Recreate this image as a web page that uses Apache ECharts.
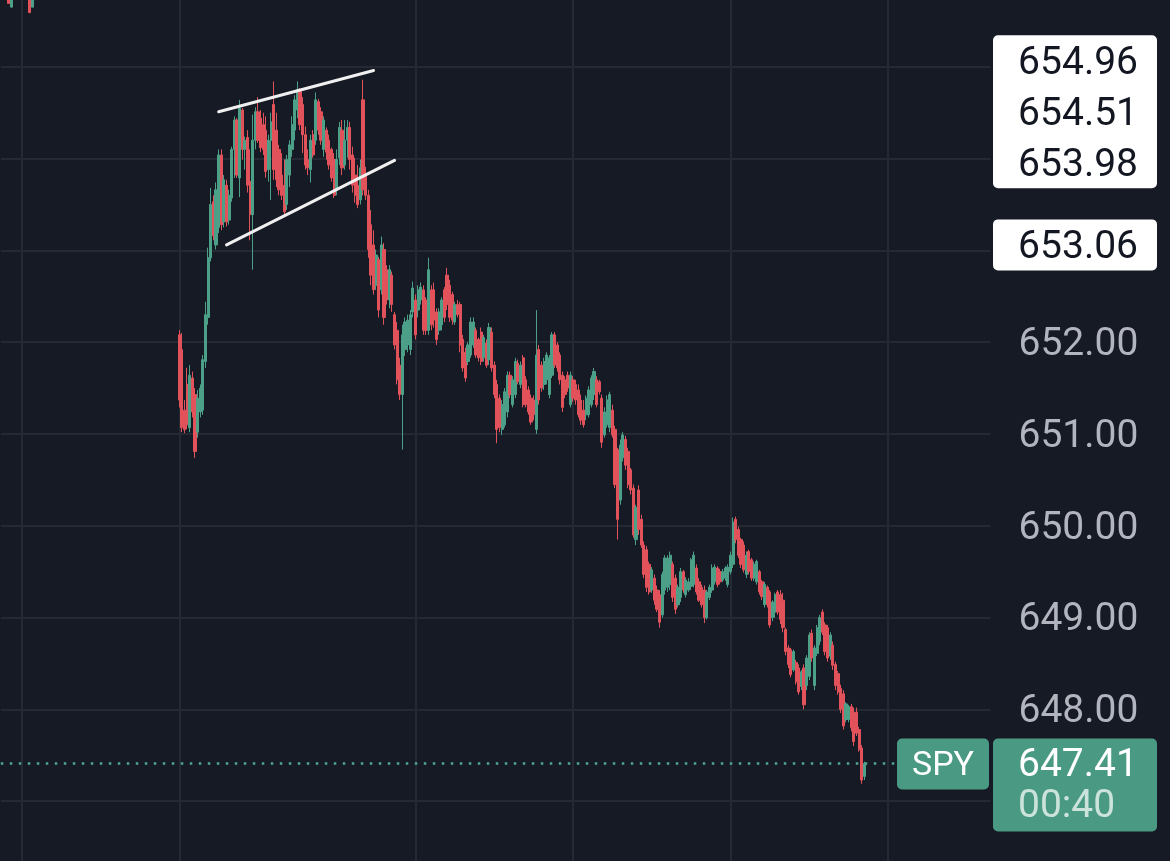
<!DOCTYPE html>
<html><head><meta charset="utf-8">
<script src="https://cdn.jsdelivr.net/npm/echarts@6/dist/echarts.min.js"></script>
<style>html,body{margin:0;padding:0;background:#161a25;overflow:hidden;width:1170px;height:861px;position:relative;}
#c{position:absolute;left:0;top:-25px;width:1170px;height:918px;}</style>
</head><body><div id="c"></div>
<script>
// ---------------- DATA ----------------
const symbolName = 'SPY';
const countdown = '00:40';
const prevDayStart = [14, 52];      // first (partially visible) minute of previous session
const prevDayCount = 68;            // minutes of previous session on screen
const sessionStart = [9, 30];
const totalCategories = 378;
const gridTimes = ['15:00', '09:30', '11:00', '12:00', '13:00', '14:00'];

// previous-day bars that dip into view: [index, open, close, low, high]
const prevDayBars = [
  [3, 656.20, 655.69, 655.69, 656.35],
  [4, 655.65, 656.10, 655.65, 656.20],
  [11, 656.15, 655.59, 655.59, 656.30],
  [12, 655.65, 656.00, 655.65, 656.10]
];

// today's 1-minute bars: [open, close, low, high]
const todayBars = [
[652.08,651.37,651.29,652.13],[651.92,651.07,651.02,652.10],[651.26,651.05,651.01,651.37],[651.54,651.10,651.05,651.72],
[651.07,651.64,651.02,651.75],[651.61,651.24,651.18,651.68],[651.43,650.81,650.74,651.50],[651.02,651.39,650.96,651.48],
[651.24,651.50,651.18,651.54],[651.26,651.81,651.21,651.86],[651.79,652.30,651.72,652.44],[652.27,652.92,652.19,653.03],
[652.92,653.50,652.88,653.68],[653.53,653.16,653.11,653.60],[653.06,653.66,653.01,653.74],[653.25,654.04,653.19,654.10],
[654.04,653.28,653.22,654.10],[653.31,653.77,653.25,653.82],[653.71,653.31,653.26,653.77],[653.33,653.60,653.28,653.66],
[653.57,654.10,653.53,654.13],[654.10,654.42,653.79,654.46],[654.42,653.82,653.79,654.44],[653.79,654.55,653.58,654.64],
[654.53,654.10,653.99,654.55],[654.10,654.20,653.88,654.24],[654.23,653.71,653.63,654.31],[653.75,653.39,653.11,654.10],
[653.39,654.20,652.79,654.48],[654.20,654.51,654.10,654.56],[654.51,654.20,654.17,654.67],[654.44,654.12,654.07,654.53],
[654.37,654.10,654.04,654.50],[654.31,653.86,653.79,654.46],[653.88,654.20,653.75,654.26],[654.20,654.40,653.55,654.50],
[654.59,653.88,653.77,654.84],[654.31,653.77,653.69,654.50],[654.10,653.66,653.60,654.15],[653.82,653.60,653.55,654.06],
[653.71,653.42,653.37,653.99],[653.50,653.99,653.44,654.04],[653.82,654.15,653.69,654.20],[654.10,654.37,654.02,654.46],
[654.31,654.64,654.20,654.69],[654.53,654.75,654.44,654.84],[654.73,654.37,654.31,654.77],[654.59,654.26,654.06,654.67],
[654.26,653.93,653.88,654.35],[653.99,653.90,653.82,654.10],[653.88,654.20,653.74,654.26],[654.26,654.04,654.01,654.31],
[654.20,654.64,654.15,654.72],[654.62,654.31,654.26,654.65],[654.51,654.20,654.15,654.56],[654.10,654.42,654.02,654.46],
[654.31,654.07,653.99,654.34],[654.20,653.93,653.88,654.26],[654.10,653.79,653.75,654.12],[653.99,653.60,653.57,654.06],
[653.66,653.99,653.60,654.10],[654.01,654.34,653.93,654.40],[654.31,653.90,653.82,654.42],[653.93,654.20,653.88,654.42],
[654.20,654.34,654.01,654.42],[654.34,653.99,653.88,654.40],[654.04,653.71,653.63,654.13],[653.82,653.60,653.52,654.01],
[653.71,653.50,653.46,653.93],[653.55,653.90,653.50,653.99],[654.64,653.66,653.60,654.86],[653.82,653.60,653.55,653.91],
[653.60,653.01,652.92,653.66],[653.28,652.73,652.62,653.44],[653.06,652.57,652.52,653.22],[652.62,652.95,652.57,653.01],
[652.90,652.35,652.27,652.93],[652.57,653.06,652.52,653.15],[653.01,652.27,652.19,653.08],[652.79,652.46,652.41,652.84],
[652.46,652.79,652.37,652.84],[652.73,652.41,652.33,652.77],[652.30,651.97,651.92,652.33],[652.13,651.59,651.54,652.22],
[651.75,651.43,651.37,651.83],[651.43,652.08,650.83,652.19],[651.92,652.22,651.85,652.27],[651.97,652.24,651.89,652.30],
[651.92,652.30,651.86,652.35],[652.33,652.59,652.27,652.66],[652.46,652.08,652.03,652.52],[652.35,652.57,652.27,652.62],
[652.46,652.60,652.41,652.65],[652.57,652.13,652.08,652.62],[652.46,652.13,652.08,652.49],[652.13,652.79,652.08,652.92],
[652.57,652.19,652.13,652.62],[652.57,652.24,652.16,652.65],[652.33,652.03,651.97,652.37],[652.13,652.33,652.08,652.37],
[652.19,652.46,652.13,652.49],[652.57,652.27,652.22,652.60],[652.73,652.41,652.35,652.81],[652.62,652.27,652.22,652.68],
[652.52,652.24,652.19,652.55],[652.22,652.41,652.19,652.44],[652.41,652.30,652.27,652.46],[652.41,651.97,651.89,652.44],
[652.03,651.72,651.68,652.08],[651.89,651.61,651.57,651.94],[651.79,651.97,651.75,652.00],[651.86,652.22,651.83,652.27],
[651.97,652.22,651.94,652.27],[652.13,651.86,651.83,652.16],[652.03,651.83,651.79,652.05],[652.11,651.79,651.75,652.16],
[651.83,652.05,651.79,652.08],[651.99,651.75,651.72,652.03],[651.81,652.16,651.75,652.21],[652.11,651.72,651.68,652.16],
[651.75,651.43,651.39,651.79],[651.54,651.05,650.90,651.59],[651.39,651.07,651.02,651.43],[651.05,651.32,650.99,651.37],
[651.10,651.46,651.07,651.50],[651.24,651.64,651.18,651.68],[651.64,651.43,651.39,651.68],[651.32,651.59,651.29,651.63],
[651.43,651.79,651.39,651.83],[651.77,651.57,651.54,651.81],[651.54,651.75,651.50,651.79],[651.83,651.32,651.29,651.86],
[651.59,651.32,651.29,651.63],[651.48,651.24,651.21,651.52],[651.39,651.13,651.10,651.43],[651.37,651.21,651.15,651.42],
[651.05,651.86,651.00,652.35],[651.92,651.37,651.32,651.97],[651.75,651.50,651.46,651.79],[651.54,651.79,651.48,651.83],
[651.59,651.86,651.54,651.89],[651.43,651.83,651.39,651.86],[651.64,652.08,651.61,652.11],[652.08,651.75,651.72,652.11],
[651.97,651.72,651.68,652.00],[651.86,651.59,651.54,651.89],[651.64,651.29,651.24,651.68],[651.59,651.43,651.39,651.63],
[651.64,651.50,651.46,651.68],[651.32,651.64,651.29,651.68],[651.59,651.39,651.35,651.63],[651.54,651.37,651.32,651.59],
[651.48,651.21,651.18,651.54],[651.37,651.15,651.10,651.43],[651.26,651.10,651.07,651.37],[651.21,651.39,651.15,651.42],
[651.21,651.48,651.18,651.52],[651.32,651.61,651.29,651.64],[651.43,651.68,651.37,651.72],[651.59,651.32,651.29,651.63],
[651.57,651.46,651.43,651.59],[651.39,650.91,650.85,651.43],[650.99,651.24,650.96,651.29],[651.10,651.37,651.07,651.42],
[651.07,651.43,651.02,651.46],[651.26,650.99,650.96,651.32],[651.05,650.45,650.41,651.09],[650.83,650.07,649.85,650.85],
[650.28,650.88,650.23,650.94],[650.74,650.99,650.70,651.02],[650.94,650.66,650.61,650.98],[650.81,650.45,650.41,650.85],
[650.61,650.39,650.34,650.63],[650.41,649.90,649.87,650.45],[649.85,650.20,649.79,650.23],[650.39,649.96,649.90,650.44],
[650.07,649.79,649.76,650.12],[649.79,649.47,649.43,649.83],[649.74,649.33,649.28,649.78],[649.58,649.28,649.25,649.61],
[649.30,649.52,649.27,649.55],[649.43,649.19,649.14,649.47],[649.30,649.09,649.06,649.35],[649.25,648.95,648.89,649.30],
[649.03,649.47,649.00,649.50],[649.30,649.65,649.25,649.68],[649.33,649.65,649.28,649.68],[649.36,649.68,649.30,649.72],
[649.58,649.22,649.17,649.61],[649.43,649.09,649.04,649.47],[649.14,649.33,649.11,649.36],[649.22,649.50,649.17,649.54],
[649.50,649.30,649.27,649.52],[649.25,649.41,649.22,649.44],[649.30,649.39,649.28,649.43],[649.34,649.63,649.30,649.65],
[649.36,649.68,649.33,649.72],[649.54,649.28,649.25,649.58],[649.39,649.19,649.17,649.43],[649.33,649.14,649.11,649.36],
[649.30,649.00,648.94,649.35],[649.00,649.28,648.98,649.30],[649.22,649.33,649.19,649.36],[649.30,649.54,649.27,649.58],
[649.39,649.55,649.36,649.58],[649.54,649.36,649.33,649.56],[649.50,649.39,649.36,649.53],[649.41,649.50,649.39,649.53],
[649.43,649.54,649.40,649.56],[649.36,649.55,649.33,649.58],[649.50,649.68,649.47,649.72],[649.58,650.04,649.54,650.09],
[650.07,649.85,649.81,650.10],[649.96,649.68,649.65,649.99],[649.85,649.58,649.54,649.87],[649.79,649.52,649.49,649.83],
[649.47,649.68,649.43,649.72],[649.72,649.50,649.47,649.74],[649.63,649.43,649.40,649.65],[649.43,649.58,649.40,649.61],
[649.39,649.61,649.36,649.63],[649.50,649.28,649.25,649.52],[649.39,649.23,649.19,649.41],[649.14,649.36,649.11,649.39],
[649.33,649.14,649.11,649.35],[649.28,648.92,648.89,649.30],[649.00,649.17,648.96,649.19],[649.06,649.25,649.00,649.27],
[649.28,649.06,649.03,649.30],[649.25,648.98,648.93,649.30],[649.19,648.89,648.84,649.27],[648.87,648.63,648.59,648.89],
[648.67,648.49,648.45,648.70],[648.65,648.38,648.35,648.67],[648.43,648.63,648.41,648.65],[648.51,648.30,648.27,648.54],
[648.45,648.19,648.16,648.49],[648.25,648.41,648.21,648.43],[648.45,648.05,648.00,648.49],[648.26,648.56,648.21,648.59],
[648.36,648.81,648.32,648.84],[648.83,648.56,648.52,648.87],[648.26,648.67,648.21,648.70],[648.61,648.89,648.58,648.92],
[648.74,649.00,648.70,649.03],[649.06,648.84,648.81,649.09],[648.92,648.63,648.59,648.95],[648.89,648.56,648.52,648.92],
[648.58,648.81,648.54,648.84],[648.70,648.48,648.43,648.74],[648.49,648.26,648.21,648.52],[648.39,648.19,648.16,648.42],
[648.23,648.00,647.96,648.27],[648.17,647.82,647.78,648.21],[647.89,648.06,647.86,648.08],[647.89,648.03,647.86,648.05],
[648.03,647.80,647.76,648.06],[647.97,647.65,647.60,648.02],[647.97,647.74,647.71,648.02],[647.78,647.56,647.54,647.81],
[647.58,647.23,647.19,647.61],[647.27,647.41,647.23,647.43]
];

// rising-wedge trend lines drawn on the chart: [time, price]
const wedgeUpper = [['09:45', 654.51], ['10:44', 654.96]];
const wedgeLower = [['09:48', 653.06], ['10:52', 653.98]];

// y axis scale
const yMin = 646, yMax = 656, yStep = 1;

// ---------------- BUILD ----------------
const UP = '#4ca088', DOWN = '#e2525a', BG = '#161a25', GRID = '#252934';
const BOX_GREEN = '#4a9a83';
function hhmm(t) { return String(Math.floor(t / 60)).padStart(2, '0') + ':' + String(t % 60).padStart(2, '0'); }
const categories = [];
for (let j = 0; j < prevDayCount; j++) categories.push(hhmm(prevDayStart[0] * 60 + prevDayStart[1] + j));
for (let k = 0; categories.length < totalCategories; k++) categories.push(hhmm(sessionStart[0] * 60 + sessionStart[1] + k));

const candleData = [];
for (let j = 0; j < prevDayCount; j++) candleData.push(['-', '-', '-', '-']);
prevDayBars.forEach(b => { candleData[b[0]] = b.slice(1); });
todayBars.forEach(b => candleData.push(b));
const lastClose = todayBars[todayBars.length - 1][1];
const levelPrices = [wedgeUpper[1][1], wedgeUpper[0][1], wedgeLower[1][1], wedgeLower[0][1]];

const chart = echarts.init(document.getElementById('c'), null, { renderer: 'canvas' });
const FONT = 'Roboto, "Noto Sans", sans-serif';
const NUM_SIZE = 39;
const DY = 3; // optical centring of Roboto digits
const option = {
  animation: false,
  backgroundColor: BG,
  grid: { left: 0.8, top: 0, width: 989.6, height: 918, containLabel: false, outerBoundsMode: 'none' },
  xAxis: {
    type: 'category', data: categories, boundaryGap: false,
    axisLine: { show: false }, axisTick: { show: false }, axisLabel: { show: false },
    splitLine: { show: true, interval: (i, v) => gridTimes.includes(v), lineStyle: { color: GRID, width: 2 } }
  },
  yAxis: {
    type: 'value', position: 'right', min: yMin, max: yMax, interval: yStep,
    axisLine: { show: false }, axisTick: { show: false },
    splitLine: { show: true, lineStyle: { color: GRID, width: 2 } },
    axisLabel: { align: 'right', margin: 148, formatter: v => '{p|' + v.toFixed(2) + '}',
      rich: { p: { color: '#b2b5be', fontFamily: FONT, fontSize: NUM_SIZE, padding: [DY * 2, 0, 0, 0] } } }
  },
  series: [
    {
      type: 'candlestick', data: candleData, barWidth: 2.6, clip: true,
      itemStyle: { color: UP, color0: DOWN, borderColor: UP, borderColor0: DOWN, borderWidth: 1 },
      markLine: {
        silent: true, symbol: ['none', 'none'], label: { show: false },
        lineStyle: { color: '#52a88f', width: 2.5, type: [2.5, 6.5], opacity: 1 },
        data: [{ yAxis: lastClose }]
      }
    },
    { type: 'line', data: wedgeUpper, symbol: 'none', silent: true, z: 5,
      lineStyle: { color: '#f0f0f0', width: 3, cap: 'round' } },
    { type: 'line', data: wedgeLower, symbol: 'none', silent: true, z: 5,
      lineStyle: { color: '#f0f0f0', width: 3, cap: 'round' } }
  ]
};
chart.setOption(option);

// ---------------- right-side price labels ----------------
const px = v => chart.convertToPixel({ yAxisIndex: 0 }, v);
const H = 51, BOX_X = 993, BOX_W = 164, TEXT_R = 1138;
const levels = levelPrices.map(v => ({ v, y: px(v) })).sort((a, b) => a.y - b.y);
const clusters = [];
levels.forEach(l => {
  const c = clusters[clusters.length - 1];
  if (c && l.y - c[c.length - 1].y < H) c.push(l); else clusters.push([l]);
});
const graphics = [];
clusters.forEach(c => {
  let first;
  if (c.length % 2 === 1) { const m = (c.length - 1) / 2; first = c[m].y - m * H; }
  else { const mean = c.reduce((s, l) => s + l.y, 0) / c.length; first = mean - (c.length - 1) / 2 * H; }
  graphics.push({ type: 'rect', z: 100, shape: { x: BOX_X, y: first - H / 2, width: BOX_W, height: H * c.length, r: 5 }, style: { fill: '#ffffff' } });
  c.forEach((l, i) => {
    const cy = first + i * H;
    graphics.push({ type: 'text', z: 101, style: { text: l.v.toFixed(2), x: TEXT_R, y: cy + DY, align: 'right', verticalAlign: 'middle',
      fill: '#131722', font: NUM_SIZE + 'px ' + FONT } });
  });
});
const ly = px(lastClose);
graphics.push({ type: 'rect', z: 100, shape: { x: BOX_X, y: ly - 25, width: BOX_W, height: 93, r: 5 }, style: { fill: BOX_GREEN } });
graphics.push({ type: 'text', z: 101, style: { text: lastClose.toFixed(2), x: 1018, y: ly + DY, align: 'left', verticalAlign: 'middle', fill: '#ffffff', font: NUM_SIZE + 'px ' + FONT } });
graphics.push({ type: 'text', z: 101, style: { text: countdown, x: 1018, y: ly + 41 + DY, align: 'left', verticalAlign: 'middle', fill: 'rgba(255,255,255,0.72)', font: NUM_SIZE + 'px ' + FONT } });
graphics.push({ type: 'rect', z: 100, shape: { x: 897, y: ly - 25, width: 92, height: 51, r: 5 }, style: { fill: BOX_GREEN } });
graphics.push({ type: 'text', z: 101, style: { text: symbolName, x: 943, y: ly + DY, align: 'center', verticalAlign: 'middle', fill: '#ffffff', font: '34px ' + FONT } });
chart.setOption({ graphic: graphics });
</script>
</body></html>
